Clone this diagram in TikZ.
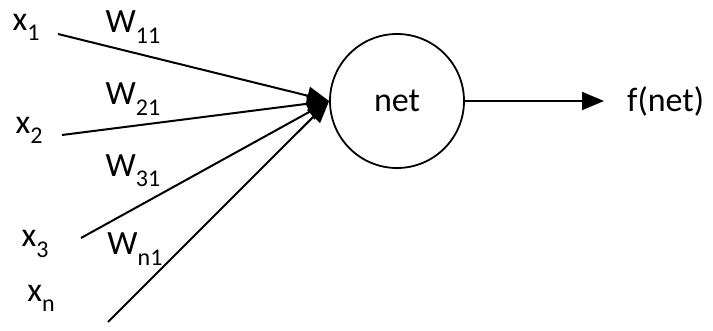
\documentclass[tikz,border=0pt]{standalone}
\usepackage{fontspec}
\setmainfont{Carlito}
\usetikzlibrary{arrows.meta}
\newcommand\lowsub[1]{\raisebox{-0.3em}{\fontsize{24}{24}\selectfont #1}}
\begin{document}
\begin{tikzpicture}[x=1pt,y=-1pt,
  lbl/.style={font=\fontsize{34}{34}\selectfont, inner sep=0pt},
  wire/.style={line width=2pt, -{Triangle[length=22pt,width=18pt]}},
  neuron/.style={circle, draw, line width=1.8pt, minimum size=134pt, inner sep=0pt}]
\useasboundingbox (0,0) rectangle (713,331);
% summing unit
\node[neuron, lbl] (net) at (397,101) {net};
\node[lbl, anchor=west] (out) at (627,101) {f(net)};
% inputs
\node[lbl] (x1) at (26,27) {x\lowsub{1}};
\node[lbl] (x2) at (29,130) {x\lowsub{2}};
\node[lbl] (x3) at (35,244) {x\lowsub{3}};
\node[lbl] (xn) at (41,298) {x\lowsub{n}};
% weights
\node[lbl] (w11) at (133,27) {W\lowsub{11}};
\node[lbl] (w21) at (133,99) {W\lowsub{21}};
\node[lbl] (w31) at (133,171) {W\lowsub{31}};
\node[lbl] (wn1) at (135,249) {W\lowsub{n1}};
% connector start points
\coordinate (s1) at (58,34);
\coordinate (s2) at (62,135);
\coordinate (s3) at (81,238);
\coordinate (sn) at (108,322);
\coordinate (tip) at (604,101);
\draw[wire] (s1) -- (net.west);
\draw[wire] (s2) -- (net.west);
\draw[wire] (s3) -- (net.west);
\draw[wire] (sn) -- (net.west);
\draw[wire] (net.east) -- (tip);
\end{tikzpicture}
\end{document}
